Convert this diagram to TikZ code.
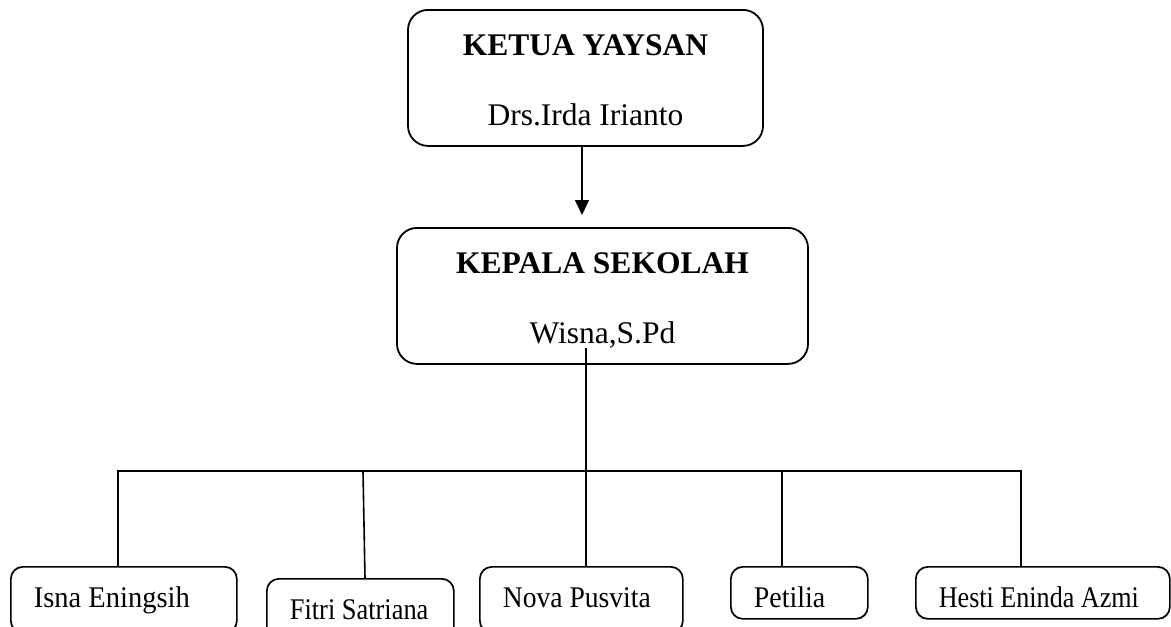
\documentclass[tikz,border=0pt]{standalone}
\usepackage{fontspec}
\usepackage{graphicx}
\setmainfont{Liberation Serif}
\usetikzlibrary{positioning,arrows.meta}
% nama anggota: lebar, faktor sempit, teks
\newcommand\namaanggota[3]{\makebox[#1][l]{\scalebox{#2}[1]{#3}}}

\begin{document}
\begin{tikzpicture}[x=1pt, y=-1pt,
    pimpinan/.style={draw, line width=1.8pt, rounded corners=20pt, anchor=north, align=center, inner ysep=0pt, font=\fontsize{31.5pt}{70pt}\selectfont},
    anggota/.style={draw, line width=1.7pt, rounded corners=12pt, anchor=north west, inner xsep=23pt, inner ysep=5pt, text height=36pt, text depth=6pt, font=\fontsize{30pt}{32pt}\selectfont},
    garis/.style={line width=1.6pt}]
  \useasboundingbox (0,0) rectangle (1171,627);
  \clip (0,0) rectangle (1171,627);

  % pimpinan
  \node[pimpinan, minimum width=355pt] (ketua) at (585.5,9) {\rule{0pt}{46pt}\textbf{KETUA YAYSAN}\\Drs.Irda Irianto\rule[-20pt]{0pt}{0pt}};
  \node[pimpinan, minimum width=411pt] (kepsek) at (602.5,227) {\rule{0pt}{46pt}\textbf{KEPALA SEKOLAH}\\Wisna,S.Pd\rule[-20pt]{0pt}{0pt}};

  % anggota
  \node[anggota, text depth=20pt] (isna) at (10,566) {\namaanggota{180pt}{0.95}{Isna Eningsih}};
  \node[anggota, text depth=20pt] (fitri) at (266,578) {\namaanggota{141pt}{0.88}{Fitri Satriana}};
  \node[anggota, text depth=20pt] (nova) at (479,566) {\namaanggota{157pt}{0.92}{Nova Pusvita}};
  \node[anggota] (petilia) at (730,566) {\namaanggota{91pt}{0.93}{Petilia}};
  \node[anggota] (hesti) at (915,566) {\namaanggota{208pt}{0.87}{Hesti Eninda Azmi}};

  % garis
  \draw[garis, -{Triangle[width=14pt,length=15pt]}, shorten >=12pt] ([xshift=-3.5pt]ketua.south) -- ([xshift=-3.5pt]ketua.south |- kepsek.north);
  \coordinate (pusat) at (586,348);
  \coordinate (cabang) at (586,471);
  \coordinate (kiri) at (118,471);
  \coordinate (kanan) at (1021,471);
  \coordinate (c2) at (363,471);
  \coordinate (c4) at (782,471);
  \draw[garis] (pusat) -- (cabang);
  \draw[garis] (kiri |- isna.north) -- (kiri) -- (kanan) -- (kanan |- hesti.north);
  \draw[garis] (c2) -- ([xshift=2pt]c2 |- fitri.north);
  \draw[garis] (cabang) -- (cabang |- nova.north);
  \draw[garis] (c4) -- (c4 |- petilia.north);
\end{tikzpicture}
\end{document}
